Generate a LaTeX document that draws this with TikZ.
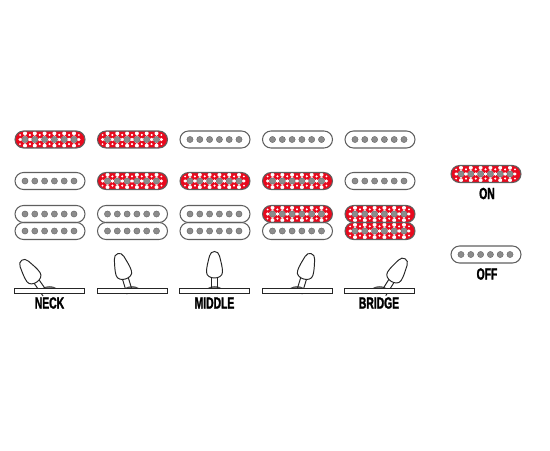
\documentclass[tikz,border=0pt]{standalone}
\usepackage{xcolor}
\usepackage{fontspec}
\usepackage{tikz}
\setmainfont{Liberation Sans}
\newfontfamily\switchfont[FakeBold=1.6,FakeStretch=0.64]{Liberation Sans Bold}
\definecolor{pickupred}{RGB}{232, 10, 30}
\definecolor{polegray}{RGB}{140, 140, 140}
\definecolor{edgegray}{RGB}{95, 95, 95}
\newcommand{\pickup}[3]{%
  \begin{scope}[shift={(#1,#2)}]
    \ifnum#3=1
      \begin{scope}
        \clip[rounded corners=0.17cm] (0,-8.5) rectangle (70,8.5);
        \fill[pickupred] (0,-8.5) rectangle (70,8.5);
        \foreach \pole in {10,19.8,29.6,39.4,49.2,59} {
          \fill[white] (\pole-4.4,0) -- (\pole,-4.4) -- (\pole+4.4,0) -- (\pole,4.4) -- cycle;
          \fill[white] (\pole,-6.2) circle (2) (\pole,6.2) circle (2);
          \fill[white] (\pole+4.9,-4.6) circle (1) (\pole+4.9,4.6) circle (1);
          \fill[white] (\pole-4.9,-4.6) circle (1) (\pole-4.9,4.6) circle (1);
          \fill[white] (\pole+4.9,0) circle (1.7) (\pole-4.9,0) circle (1.7);
        }
      \end{scope}
    \fi
    \draw[pickupline, rounded corners=0.17cm] (0,-8.5) rectangle (70,8.5);
    \foreach \pole in {10,19.8,29.6,39.4,49.2,59}
      \fill[polepiece] (\pole,0) circle (3.1);
  \end{scope}}
\newcommand{\lever}[3]{%
  \begin{scope}[shift={(#1,300)}]
    \fill[bumpline] (#3-6,-12) .. controls (#3-3,-14) and (#3+3,-14) .. (#3+6,-12) -- cycle;
    \begin{scope}[rotate=#2]
      \draw[leverline] (-3,-24) -- (-3,-7) (3,-24) -- (3,-7);
      \draw[leverline, fill=white] (-5,-44) .. controls (-4,-50) and (4,-50) .. (5,-44)
        .. controls (6.5,-38) and (8,-33) .. (8,-28)
        .. controls (8,-24) and (4,-22) .. (0,-22)
        .. controls (-4,-22) and (-8,-24) .. (-8,-28)
        .. controls (-8,-33) and (-6.5,-38) .. (-5,-44) -- cycle;
    \end{scope}
    \draw[leverline, fill=white] (-35,-12) rectangle (35,-7);
  \end{scope}}

\begin{document}
\begin{tikzpicture}[x=0.02cm, y=-0.02cm]
  \tikzstyle{pickupline} = [draw=edgegray, line width=0.6pt]
  \tikzstyle{polepiece} = [fill=polegray, draw=edgegray, line width=0.2pt]
  \tikzstyle{leverline} = [draw=black!85, line width=0.55pt]
  \tikzstyle{bumpline} = [fill=polegray, draw=black!70, line width=0.3pt]
  \tikzstyle{poslabel} = [font=\switchfont\fontsize{9.2}{9.2}\selectfont, inner sep=0pt, text=black]
  \useasboundingbox (0,0) rectangle (550,450);

  % pickup rows, one column per switch position
  \foreach \cx/\rowa/\rowb/\rowc/\rowd in {15/1/0/0/0, 97.5/1/1/0/0, 180/0/1/0/0, 262.5/0/1/1/0, 345/0/0/1/1} {
    \pickup{\cx}{139.5}{\rowa}
    \pickup{\cx}{181}{\rowb}
    \pickup{\cx}{214}{\rowc}
    \pickup{\cx}{231}{\rowd}
  }

  % switch levers
  \foreach \cx/\tilt/\bump in {49.5/35/0, 132/17/0, 214.5/0/0, 297/-17/0, 379.5/-32/0} {
    \lever{\cx}{\tilt}{\bump}
  }

  \node (neck) [poslabel] at (49.5,303) {NECK};
  \node (middle) [poslabel] at (214.5,303) {MIDDLE};
  \node (bridge) [poslabel] at (379,303) {BRIDGE};

  % legend
  \pickup{451}{174}{1}
  \pickup{451}{254.5}{0}
  \node (on) [poslabel] at (487,193.5) {ON};
  \node (off) [poslabel] at (487,274) {OFF};
\end{tikzpicture}
\end{document}
